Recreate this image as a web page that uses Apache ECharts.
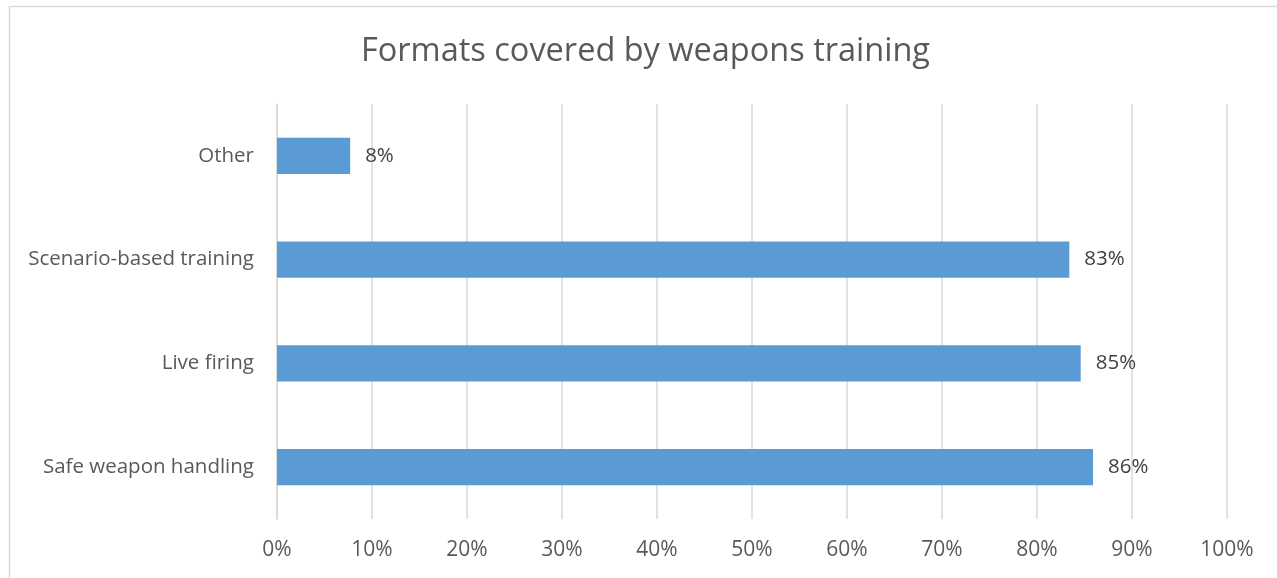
<!DOCTYPE html>
<html>
<head>
<meta charset="utf-8">
<script src="https://cdn.jsdelivr.net/npm/echarts@6/dist/echarts.min.js"></script>
<style>
html,body{margin:0;padding:0;background:#fff;}
#chart{width:1277px;height:578px;}
</style>
</head>
<body>
<div id="chart"></div>
<script>
const categories = ["Safe weapon handling", "Live firing", "Scenario-based training", "Other"];
const values = [85.9, 84.6, 83.4, 7.7];
const labels = ["86%", "85%", "83%", "8%"];
const titleText = "Formats covered by weapons training";

const chart = echarts.init(document.getElementById('chart'));
const font = "'Open Sans', 'Noto Sans', sans-serif";
chart.setOption({
  animation: false,
  backgroundColor: '#ffffff',
  graphic: [{
    type: 'rect', left: 7, top: 4, z: -1,
    shape: { width: 1300, height: 600 },
    style: { fill: 'none', stroke: '#d9d9d9', lineWidth: 1.5 }
  }],
  title: {
    text: titleText, left: 356, top: 30,
    textStyle: { fontFamily: font, fontSize: 32.5, fontWeight: 'normal', color: '#595959' }
  },
  grid: { left: 277, right: 50, top: 104, bottom: 59 },
  xAxis: {
    type: 'value', min: 0, max: 100, interval: 10,
    axisLine: { show: false }, axisTick: { show: false },
    splitLine: { lineStyle: { color: '#d9d9d9', width: 1.5 } },
    axisLabel: { formatter: '{value}%', color: '#595959', fontFamily: font, fontSize: 21, margin: 21 }
  },
  yAxis: {
    type: 'category', data: categories,
    axisLine: { lineStyle: { color: '#d9d9d9', width: 1.5 } },
    axisTick: { show: false },
    axisLabel: { color: '#595959', fontFamily: font, fontSize: 20.5, margin: 23 }
  },
  series: [{
    type: 'bar', data: values, barWidth: '35%',
    itemStyle: { color: '#5b9bd5' },
    label: {
      show: true, position: 'right', distance: 15,
      formatter: p => labels[p.dataIndex],
      color: '#404040', fontFamily: font, fontSize: 20.5
    }
  }]
});
</script>
</body>
</html>
